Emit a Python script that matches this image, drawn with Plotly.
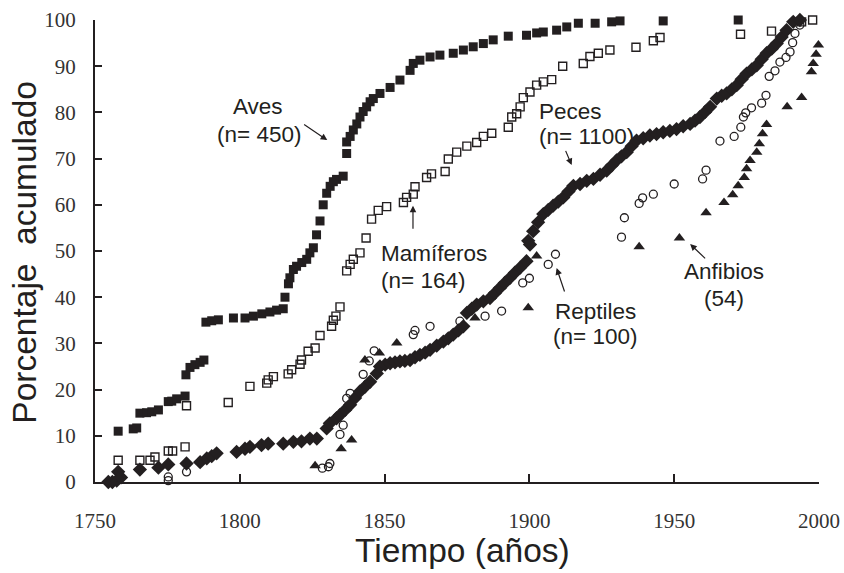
import plotly.graph_objects as go

# ---------------- data ----------------
aves_year = [1758.0, 1763.2, 1764.4, 1765.5, 1767.8, 1769.6, 1771.9, 1775.3, 1776.5, 1778.2,
             1781.1, 1781.4, 1782.8, 1784.5, 1786.3, 1787.6, 1788.3, 1790.3, 1792.6, 1797.8,
             1801.8, 1804.7, 1807.6, 1810.4, 1812.7, 1815.0, 1815.6, 1816.8, 1817.3, 1818.5,
             1819.6, 1821.4, 1823.1, 1824.2, 1825.4, 1826.5, 1827.7, 1828.8, 1830.0, 1831.2,
             1832.3, 1833.4, 1835.7, 1836.9, 1836.9, 1838.1, 1839.2, 1840.4, 1841.5, 1842.6,
             1843.8, 1845.0, 1846.1, 1848.4, 1851.9, 1855.3, 1858.8, 1859.9, 1862.2, 1865.7,
             1869.1, 1873.7, 1877.2, 1880.6, 1884.1, 1887.5, 1892.7, 1899.0, 1902.5, 1904.8,
             1909.4, 1912.9, 1916.9, 1922.7, 1928.4, 1931.3, 1946.2, 1972.1]
aves_pct = [11.0, 11.5, 11.7, 14.9, 15.0, 15.2, 15.6, 17.4, 17.5, 18.0,
            18.6, 23.2, 24.8, 25.4, 25.9, 26.4, 34.6, 34.9, 35.1, 35.5,
            35.5, 35.9, 36.4, 36.8, 37.2, 37.5, 40.0, 42.9, 44.2, 46.0,
            46.7, 47.5, 48.2, 49.6, 50.7, 53.5, 56.5, 60.0, 62.5, 64.0,
            65.0, 65.5, 66.2, 71.1, 73.6, 74.8, 76.2, 77.5, 79.0, 80.2,
            81.2, 82.3, 83.0, 84.1, 85.4, 87.0, 89.1, 90.6, 91.3, 92.0,
            92.4, 92.8, 93.5, 94.2, 94.9, 95.7, 96.5, 96.7, 97.2, 97.4,
            97.8, 98.5, 99.3, 99.3, 99.6, 99.8, 99.8, 100.0]

mam_year = [1758.0, 1765.5, 1769.0, 1770.7, 1775.3, 1776.8, 1781.1, 1781.6, 1796.0, 1803.5,
            1809.3, 1809.8, 1811.6, 1816.7, 1817.9, 1820.8, 1821.3, 1823.6, 1826.0, 1827.7,
            1831.7, 1832.3, 1833.2, 1834.6, 1836.9, 1838.1, 1839.2, 1841.5, 1843.6, 1845.5,
            1847.8, 1850.7, 1856.5, 1857.6, 1859.9, 1860.5, 1864.5, 1866.2, 1870.9, 1872.0,
            1874.9, 1878.4, 1881.8, 1884.1, 1887.0, 1892.7, 1893.9, 1895.6, 1896.8, 1897.9,
            1900.2, 1902.5, 1904.8, 1907.7, 1911.5, 1918.6, 1920.9, 1923.8, 1927.8, 1936.8,
            1942.8, 1945.1, 1972.9, 1983.6, 1994.0, 1997.8]
mam_pct = [4.7, 4.7, 4.7, 5.4, 6.7, 6.7, 7.6, 16.5, 17.2, 20.7,
           21.4, 22.1, 22.8, 23.4, 24.3, 25.5, 26.4, 28.3, 29.0, 31.7,
           33.7, 35.0, 35.9, 37.9, 45.7, 47.1, 48.2, 49.6, 52.8, 56.9,
           58.8, 59.6, 60.5, 61.6, 62.3, 63.9, 65.9, 66.7, 67.2, 69.9,
           71.4, 72.7, 73.5, 74.8, 75.5, 76.8, 79.0, 79.7, 81.2, 83.2,
           84.4, 85.9, 86.6, 87.1, 90.0, 90.6, 92.1, 92.8, 93.5, 94.1,
           95.5, 96.2, 96.9, 97.6, 99.6, 100.0]

peces_year = [1754.6, 1756.0, 1757.5, 1759.0, 1758.0, 1765.5, 1771.9, 1775.3, 1781.6, 1786.3,
              1788.6, 1790.3, 1792.0, 1798.9, 1801.8, 1803.5, 1807.5, 1809.8, 1815.0, 1818.5,
              1821.3, 1824.2, 1826.6, 1830.0, 1831.1, 1833.4, 1834.6, 1836.4, 1838.1, 1839.8,
              1841.5, 1843.2, 1845.0, 1847.3, 1848.4, 1850.2, 1851.9, 1853.6, 1855.3, 1857.0,
              1858.8, 1860.5, 1862.2, 1864.0, 1865.7, 1868.0, 1870.3, 1872.0, 1873.7, 1875.5,
              1877.2, 1878.4, 1880.1, 1881.8, 1884.1, 1886.4, 1888.1, 1889.8, 1891.5, 1893.3,
              1895.0, 1896.8, 1899.0, 1899.6, 1900.2, 1901.3, 1903.0, 1904.8, 1906.5, 1908.2,
              1910.0, 1911.7, 1913.5, 1915.2, 1917.5, 1919.8, 1922.1, 1924.4, 1926.7, 1928.4,
              1930.1, 1931.8, 1933.6, 1935.3, 1937.0, 1939.3, 1941.6, 1943.9, 1946.2, 1948.5,
              1950.8, 1953.1, 1955.5, 1957.2, 1958.9, 1960.7, 1962.4, 1964.7, 1966.4, 1968.1,
              1969.9, 1971.6, 1973.3, 1975.0, 1976.8, 1978.5, 1980.2, 1981.9, 1983.7, 1985.4,
              1987.1, 1988.8, 1991.1, 1993.4]
peces_pct = [0.0, 0.0, 0.3, 1.0, 2.2, 2.7, 3.1, 3.8, 4.0, 4.3,
             5.1, 5.6, 6.2, 6.5, 7.2, 7.6, 8.0, 8.3, 8.3, 8.7,
             8.8, 9.4, 9.4, 11.6, 12.7, 13.8, 14.5, 15.6, 16.7, 18.2,
             19.6, 20.6, 21.7, 23.5, 25.0, 25.4, 25.7, 25.9, 26.1, 26.2,
             26.4, 27.0, 27.5, 28.0, 28.6, 29.5, 30.4, 31.1, 31.9, 32.8,
             33.7, 36.6, 37.5, 38.4, 39.1, 39.8, 40.9, 42.0, 43.1, 44.2,
             45.3, 46.4, 47.8, 52.2, 51.4, 54.3, 56.2, 58.0, 58.9, 59.8,
             60.7, 61.6, 62.9, 64.1, 64.5, 65.2, 65.6, 66.5, 67.4, 68.5,
             69.6, 70.5, 71.4, 72.7, 73.9, 74.4, 75.0, 75.3, 75.7, 76.0,
             76.4, 77.0, 77.5, 78.2, 79.0, 80.1, 81.2, 83.0, 83.6, 84.1,
             85.0, 85.9, 87.2, 88.4, 89.3, 90.2, 91.5, 92.8, 93.8, 94.9,
             96.3, 97.8, 99.6, 100.0]

rep_year = [1775.3, 1775.3, 1781.6, 1828.5, 1830.6, 1831.1, 1834.6, 1835.7, 1836.9, 1838.1,
            1842.6, 1844.7, 1846.4, 1859.9, 1860.5, 1865.7, 1876.0, 1884.7, 1890.4, 1897.7,
            1900.0, 1906.5, 1909.0, 1931.8, 1932.8, 1937.9, 1939.1, 1942.8, 1950.0, 1959.8,
            1961.0, 1965.8, 1970.7, 1973.0, 1973.9, 1974.7, 1976.7, 1980.2, 1981.7, 1982.8,
            1984.8, 1986.5, 1988.6, 1990.0, 1990.9, 1991.7, 1993.4]
rep_pct = [0.3, 1.1, 2.2, 3.0, 3.3, 4.0, 10.3, 12.3, 18.1, 19.2,
           23.3, 26.2, 28.4, 31.9, 32.8, 33.7, 34.8, 35.9, 37.0, 43.1,
           44.1, 47.1, 49.3, 53.0, 57.2, 60.3, 61.5, 62.3, 64.5, 65.6,
           67.5, 73.8, 74.8, 76.8, 79.0, 79.9, 81.0, 82.0, 83.7, 87.8,
           89.0, 90.9, 91.9, 93.1, 95.1, 97.1, 98.9]

anf_year = [1756.5, 1758.0, 1826.0, 1835.0, 1838.6, 1843.2, 1848.2, 1854.2, 1881.2, 1899.6,
            1902.5, 1937.9, 1951.8, 1961.0, 1967.2, 1970.2, 1972.1, 1974.2, 1975.0, 1976.2,
            1978.5, 1979.4, 1980.5, 1981.9, 1989.0, 1994.0, 1997.4, 1998.0, 1999.0, 1999.8]
anf_pct = [0.0, 1.2, 3.5, 7.2, 9.1, 26.4, 27.9, 30.1, 35.5, 37.7,
           48.9, 50.9, 52.8, 58.3, 60.5, 62.2, 64.1, 65.9, 67.8, 69.6,
           71.4, 73.2, 75.4, 77.4, 81.2, 83.2, 88.8, 90.6, 92.6, 94.6]

x_ticks = [1750, 1800, 1850, 1900, 1950, 2000]
y_ticks = [0, 10, 20, 30, 40, 50, 60, 70, 80, 90, 100]

INK = "#231f20"
SANS = "Liberation Sans, Arial, sans-serif"

fig = go.Figure()
fig.add_trace(go.Scatter(x=rep_year, y=rep_pct, mode="markers", name="Reptiles",
                         marker=dict(symbol="circle-open", size=8, color=INK,
                                     line=dict(width=1.3, color=INK)), cliponaxis=False))
fig.add_trace(go.Scatter(x=mam_year, y=mam_pct, mode="markers", name="Mamíferos",
                         marker=dict(symbol="square-open", size=8, color=INK,
                                     line=dict(width=1.4, color=INK)), cliponaxis=False))
fig.add_trace(go.Scatter(x=peces_year, y=peces_pct, mode="markers", name="Peces",
                         marker=dict(symbol="diamond", size=11, color=INK, line=dict(width=0)),
                         cliponaxis=False))
fig.add_trace(go.Scatter(x=aves_year, y=aves_pct, mode="markers", name="Aves",
                         marker=dict(symbol="square", size=9, color=INK, line=dict(width=0)),
                         cliponaxis=False))
fig.add_trace(go.Scatter(x=anf_year, y=anf_pct, mode="markers", name="Anfibios",
                         marker=dict(symbol="triangle-up", size=10, color=INK, line=dict(width=0)),
                         cliponaxis=False))

txt = dict(family=SANS, size=22.5, color=INK)
labels = [
    ("Aves", 1806.4, 81.2, "center"), ("(n= 450)", 1806.6, 75.3, "center"),
    ("Mamíferos", 1848.1, 49.4, "left"), ("(n= 164)", 1848.1, 43.7, "left"),
    ("Peces", 1902.6, 80.1, "left"), ("(n= 1100)", 1902.6, 74.7, "left"),
    ("Reptiles", 1922.7, 36.8, "center"), ("(n= 100)", 1922.7, 31.4, "center"),
    ("Anfibios", 1967.2, 45.5, "center"), ("(54)", 1967.2, 39.8, "center"),
]
for t, x, y, anc in labels:
    fig.add_annotation(x=x, y=y, text=t, showarrow=False, xanchor=anc, yanchor="middle", font=txt)

arrows = [
    (1821.7, 77.6, 1830.2, 74.0),
    (1859.8, 54.5, 1859.8, 59.8),
    (1912.3, 72.0, 1914.6, 68.6),
    (1912.3, 40.9, 1909.4, 46.3),
    (1961.2, 48.1, 1955.5, 51.5),
]
for tx, ty, hx, hy in arrows:
    fig.add_annotation(x=hx, y=hy, ax=tx, ay=ty, xref="x", yref="y", axref="x", ayref="y",
                       text="", showarrow=True, arrowhead=2, arrowsize=1.1, arrowwidth=1.2,
                       arrowcolor=INK, standoff=0, startstandoff=0)

# axis titles (placed in paper coordinates)
fig.add_annotation(xref="paper", yref="paper", x=-0.097, y=0.498, text="Porcentaje  acumulado",
                   textangle=-90, showarrow=False, xanchor="center", yanchor="middle",
                   font=dict(family=SANS, size=33.5, color=INK))
fig.add_annotation(xref="paper", yref="paper", x=0.5076, y=-0.149, text="Tiempo (años)",
                   showarrow=False, xanchor="center", yanchor="middle",
                   font=dict(family=SANS, size=33.5, color=INK))

tickfont = dict(family="Liberation Serif, Times New Roman, serif", size=21, color="#333333")
fig.update_layout(
    width=844, height=573,
    margin=dict(l=95, r=25, t=20, b=91, autoexpand=False),
    paper_bgcolor="white", plot_bgcolor="white",
    showlegend=False,
    xaxis=dict(range=[1750, 2000], tickvals=x_ticks, ticks="inside", ticklen=8, tickwidth=2,
               tickcolor=INK, showline=True, linewidth=2, linecolor=INK, showgrid=False,
               zeroline=False, tickfont=tickfont, ticklabelstandoff=19, automargin=False),
    yaxis=dict(range=[0, 100], tickvals=y_ticks, ticks="inside", ticklen=7, tickwidth=2,
               tickcolor=INK, showline=True, linewidth=2, linecolor=INK, showgrid=False,
               zeroline=False, tickfont=tickfont, ticklabelstandoff=13, automargin=False),
)
fig.write_html("out.html", config={"displayModeBar": False},
               post_script="document.body.style.margin='0px';")
